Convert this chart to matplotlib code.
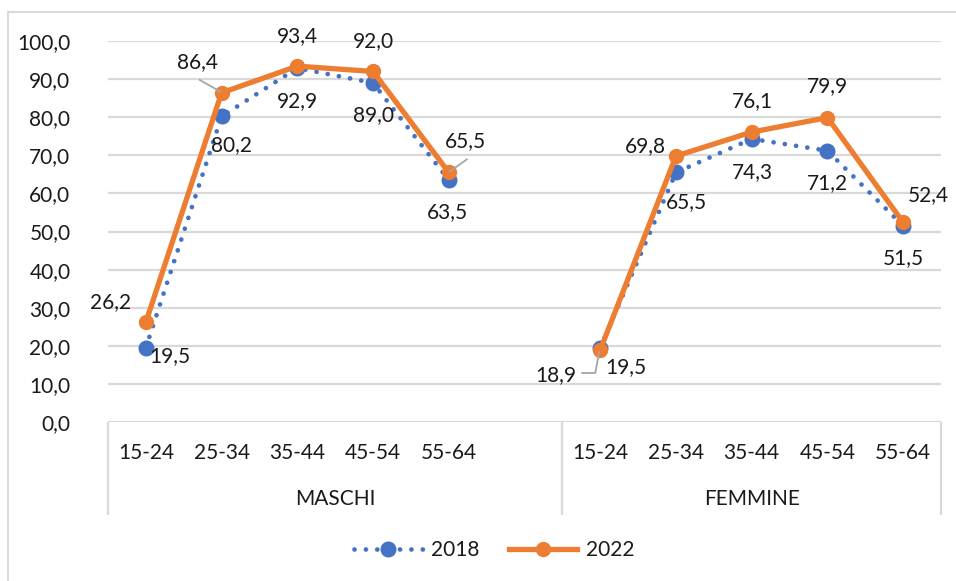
import matplotlib
matplotlib.use("Agg")
import matplotlib.pyplot as plt
from matplotlib.lines import Line2D
from matplotlib.patches import Rectangle
from matplotlib.transforms import IdentityTransform

# ---------------- data ----------------
groups = ["MASCHI", "FEMMINE"]
ages = ["15-24", "25-34", "35-44", "45-54", "55-64"]
series_names = ["2018", "2022"]
maschi_2018 = [19.5, 80.2, 92.9, 89.0, 63.5]
maschi_2022 = [26.2, 86.4, 93.4, 92.0, 65.5]
femmine_2018 = [19.5, 65.5, 74.3, 71.2, 51.5]
femmine_2022 = [18.9, 69.8, 76.1, 79.9, 52.4]
yticks = [0, 10, 20, 30, 40, 50, 60, 70, 80, 90, 100]

# ---------------- style ----------------
BLUE = "#4472C4"
ORANGE = "#ED7D31"
GRID = "#D9D9D9"
TXT = "#1a1a1a"
FONT = "Lato"
FS = 15
plt.rcParams["font.family"] = [FONT, "DejaVu Sans"]

W, H = 956, 581
fig = plt.figure(figsize=(W / 100, H / 100), dpi=100)
fig.patch.set_facecolor("white")

# outer chart border (cut at right/bottom like the reference)
fig.add_artist(Rectangle((8 / W, -0.05), 1.2, 1 - 12 / H + 0.05,
                         transform=fig.transFigure, fill=False,
                         edgecolor=GRID, lw=1.5))

left, right, bottom, top = 108 / W, 941 / W, 1 - 422 / H, 1 - 41 / H
ax = fig.add_axes([left, bottom, right - left, top - bottom])
ax.set_xlim(-0.5, 10.5)
ax.set_ylim(0, 100)
for s in ax.spines.values():
    s.set_visible(False)
ax.set_xticks([])
ax.set_yticks(yticks)
ax.set_yticklabels([f"{v:.1f}".replace(".", ",") for v in yticks],
                   fontsize=FS, color=TXT)
ax.tick_params(axis="y", length=0, pad=27)
for v in yticks:
    ax.axhline(v, color=GRID, lw=1.6, zorder=0)

xm = [0, 1, 2, 3, 4]
xf = [6, 7, 8, 9, 10]

# pixel-per-unit
ppu = (422 - 41) / 100.0

# category labels & separators
for xs in (xm, xf):
    for x, a in zip(xs, ages):
        ax.text(x, -(453 - 422) / ppu, a, ha="center", va="center",
                fontsize=FS, color=TXT, clip_on=False)
ax.text(2.5, -(499 - 422) / ppu, groups[0], ha="center", va="center",
        fontsize=FS, color=TXT, clip_on=False)
ax.text(8.0, -(499 - 422) / ppu, groups[1], ha="center", va="center",
        fontsize=FS, color=TXT, clip_on=False)
for sx in (-0.5, 5.5, 10.5):
    ax.plot([sx, sx], [0, -(515 - 422) / ppu], color=GRID, lw=1.6,
            clip_on=False, solid_capstyle="butt")

dot_style = dict(color=BLUE, lw=3.4, linestyle=(0, (0.01, 2.4)),
                 dash_capstyle="round", marker="o", markersize=10.5,
                 markerfacecolor=BLUE, markeredgecolor=BLUE)
solid_style = dict(color=ORANGE, lw=3.8, marker="o", markersize=10,
                   markerfacecolor=ORANGE, markeredgecolor=ORANGE,
                   solid_joinstyle="round")

ax.plot(xm, maschi_2018, clip_on=False, zorder=3, **dot_style)
ax.plot(xf, femmine_2018, clip_on=False, zorder=3, **dot_style)
ax.plot(xm, maschi_2022, clip_on=False, zorder=4, **solid_style)
ax.plot(xf, femmine_2022, clip_on=False, zorder=4, **solid_style)

# label offsets in pixels (dx, dy up)
off_m22 = [(-35, 20), (-24, 31), (0, 30), (0, 30), (17, 31)]
off_m18 = [(24, -8), (10, -29), (0, -33), (0, -32), (-1, -32)]
off_f22 = [(-44, -25), (-31, 10), (1, 31), (0, 31), (25, 27)]
off_f18 = [(26, -19), (10, -30), (1, -33), (0, -32), (0, -32)]


def labels(xs, vals, offs):
    for x, v, (dx, dy) in zip(xs, vals, offs):
        ax.annotate(f"{v:.1f}".replace(".", ","), xy=(x, v),
                    xytext=(dx, dy), textcoords="offset pixels",
                    ha="center", va="center", fontsize=FS, color=TXT,
                    zorder=6, annotation_clip=False)


labels(xm, maschi_2022, off_m22)
labels(xm, maschi_2018, off_m18)
labels(xf, femmine_2022, off_f22)
labels(xf, femmine_2018, off_f18)

# leader lines (pixel offsets from the point)
fig.canvas.draw()
leaders = [
    (xm[1], maschi_2022[1], [(-22, 13), (-1, 1)]),
    (xm[4], maschi_2022[4], [(18, 13), (1, 1)]),
    (xf[0], femmine_2022[0], [(-18, -23), (-5, -23), (-1, -2)]),
]
for x, v, pts in leaders:
    px, py = ax.transData.transform((x, v))
    fig.add_artist(Line2D([px + a for a, b in pts], [py + b for a, b in pts],
                          transform=IdentityTransform(), color="#A6A6A6",
                          lw=1.3, zorder=5))

# legend
h18 = Line2D([], [], **dot_style)
h22 = Line2D([], [], **solid_style)
fig.legend([h18, h22], series_names, loc="center",
           bbox_to_anchor=(494 / W, 1 - 550 / H), ncol=2, frameon=False,
           fontsize=FS, handlelength=3.3, handletextpad=0.4,
           columnspacing=1.4, labelcolor=TXT)

fig.savefig("out.png", dpi=100, facecolor="white")
